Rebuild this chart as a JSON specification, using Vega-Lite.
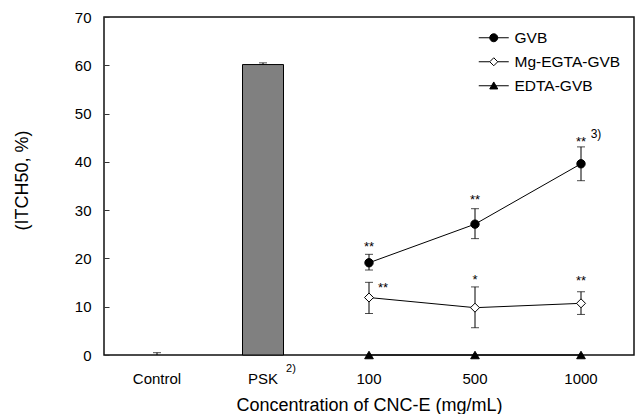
{
  "$schema": "https://vega.github.io/schema/vega-lite/v6.json",
  "width": 530,
  "height": 338,
  "autosize": {"type": "none"},
  "padding": {"left": 104, "top": 17, "right": 7, "bottom": 59},
  "background": "white",
  "config": {
    "view": {"stroke": "#111111", "strokeWidth": 1.5},
    "font": "Liberation Sans",
    "text": {"font": "Liberation Sans"}
  },
  "datasets": {
    "series": [
      {"series": "GVB", "cat": "100", "mean": 19.1, "lo": 17.6, "hi": 20.85},
      {"series": "GVB", "cat": "500", "mean": 27.1, "lo": 24.1, "hi": 30.3},
      {"series": "GVB", "cat": "1000", "mean": 39.6, "lo": 36.1, "hi": 43.1},
      {"series": "Mg-EGTA-GVB", "cat": "100", "mean": 11.9, "lo": 8.6, "hi": 15.05},
      {"series": "Mg-EGTA-GVB", "cat": "500", "mean": 9.8, "lo": 5.65, "hi": 14.1},
      {"series": "Mg-EGTA-GVB", "cat": "1000", "mean": 10.7, "lo": 8.4, "hi": 13.1},
      {"series": "EDTA-GVB", "cat": "100", "mean": 0, "lo": 0, "hi": 0},
      {"series": "EDTA-GVB", "cat": "500", "mean": 0, "lo": 0, "hi": 0},
      {"series": "EDTA-GVB", "cat": "1000", "mean": 0, "lo": 0, "hi": 0}
    ],
    "bars": [
      {"cat": "Control", "mean": 0, "hi": 0.48},
      {"cat": "PSK", "mean": 60.15, "hi": 60.5}
    ],
    "marks": [
      {"cat": "100", "y": 22.97, "label": "**", "side": "top"},
      {"cat": "500", "y": 32.65, "label": "**", "side": "top"},
      {"cat": "1000", "y": 44.7, "label": "**", "side": "top"},
      {"cat": "100", "y": 14.5, "label": "**", "side": "right"},
      {"cat": "500", "y": 16.2, "label": "*", "side": "top"},
      {"cat": "1000", "y": 15.9, "label": "**", "side": "top"}
    ],
    "notes": [
      {"cat": "1000", "y": 45.7, "label": "3)", "where": "plot"},
      {"cat": "PSK", "y": 0, "label": "2)", "where": "axis"}
    ]
  },
  "encoding": {
    "x": {
      "field": "cat", "type": "nominal",
      "scale": {"domain": ["Control", "PSK", "100", "500", "1000"], "paddingInner": 0, "paddingOuter": 0},
      "axis": {
        "title": "Concentration of CNC-E (mg/mL)",
        "titleFont": "Liberation Sans", "titleFontSize": 18, "titleFontWeight": "normal", "titleColor": "black",
        "titleBaseline": "alphabetic", "titleY": 55,
        "labelFont": "Liberation Sans", "labelFontSize": 15, "labelColor": "black", "labelAngle": 0,
        "labelPadding": 16, "ticks": false, "domain": false, "grid": false
      }
    }
  },
  "layer": [
    {
      "data": {"name": "bars"},
      "transform": [{"filter": "datum.mean > 0"}],
      "mark": {"type": "bar", "width": 41, "fill": "#808080", "stroke": "black", "strokeWidth": 1},
      "encoding": {
        "y": {
          "field": "mean", "type": "quantitative",
          "scale": {"domain": [0, 70], "nice": false, "zero": true},
          "axis": {
            "title": "(ITCH50, %)",
            "titleFont": "Liberation Sans", "titleFontSize": 18, "titleFontWeight": "normal", "titleColor": "black",
            "titleAngle": -90, "titleX": -77, "titleY": 163, "titleAlign": "center", "titleBaseline": "alphabetic",
            "values": [0, 10, 20, 30, 40, 50, 60, 70],
            "labelFont": "Liberation Sans", "labelFontSize": 15, "labelColor": "black",
            "tickSize": -5, "tickColor": "#333333", "labelPadding": 18,
            "domain": false, "grid": false
          }
        }
      }
    },
    {
      "data": {"name": "bars"},
      "mark": {"type": "rule", "color": "black", "strokeWidth": 1},
      "encoding": {"y": {"field": "mean", "type": "quantitative"}, "y2": {"field": "hi"}}
    },
    {
      "data": {"name": "bars"},
      "mark": {"type": "tick", "orient": "horizontal", "color": "black", "thickness": 1, "size": 8},
      "encoding": {"y": {"field": "hi", "type": "quantitative"}}
    },
    {
      "data": {"name": "series"},
      "transform": [{"filter": "datum.hi > datum.lo"}],
      "mark": {"type": "rule", "color": "black", "strokeWidth": 1},
      "encoding": {"y": {"field": "lo", "type": "quantitative"}, "y2": {"field": "hi"}}
    },
    {
      "data": {"name": "series"},
      "transform": [{"filter": "datum.hi > datum.lo"}],
      "mark": {"type": "tick", "orient": "horizontal", "color": "black", "thickness": 1, "size": 8},
      "encoding": {"y": {"field": "hi", "type": "quantitative"}}
    },
    {
      "data": {"name": "series"},
      "transform": [{"filter": "datum.hi > datum.lo"}],
      "mark": {"type": "tick", "orient": "horizontal", "color": "black", "thickness": 1, "size": 8},
      "encoding": {"y": {"field": "lo", "type": "quantitative"}}
    },
    {
      "data": {"name": "series"},
      "mark": {"type": "line", "color": "black", "strokeWidth": 1},
      "encoding": {
        "y": {"field": "mean", "type": "quantitative"},
        "detail": {"field": "series", "type": "nominal"}
      }
    },
    {
      "data": {"name": "series"},
      "transform": [{"filter": "datum.series == 'GVB'"}],
      "mark": {"type": "point", "shape": "circle", "filled": true, "fill": "black", "stroke": "black", "strokeWidth": 1, "opacity": 1, "size": 70},
      "encoding": {"y": {"field": "mean", "type": "quantitative"}}
    },
    {
      "data": {"name": "series"},
      "transform": [{"filter": "datum.series == 'Mg-EGTA-GVB'"}],
      "mark": {"type": "point", "shape": "diamond", "filled": true, "fill": "white", "stroke": "black", "strokeWidth": 1, "opacity": 1, "size": 81},
      "encoding": {"y": {"field": "mean", "type": "quantitative"}}
    },
    {
      "data": {"name": "series"},
      "transform": [{"filter": "datum.series == 'EDTA-GVB'"}],
      "mark": {"type": "point", "shape": "triangle-up", "filled": true, "fill": "black", "stroke": "black", "strokeWidth": 1, "opacity": 1, "size": 75},
      "encoding": {"y": {"field": "mean", "type": "quantitative"}}
    },
    {
      "data": {"name": "series"},
      "mark": {"type": "point", "filled": true, "opacity": 0},
      "encoding": {
        "y": {"field": "mean", "type": "quantitative"},
        "shape": {
          "field": "series", "type": "nominal",
          "scale": {"domain": ["GVB", "Mg-EGTA-GVB", "EDTA-GVB"], "range": [
            "M-3.75,0H3.75M1,0A1,1,0,1,1,-1,0A1,1,0,1,1,1,0Z",
            "M-3.75,0H-1M1,0H3.75M0,-1L1,0L0,1L-1,0Z",
            "M-3.75,0H3.75M0,-0.95L1,0.8L-1,0.8Z"
          ]},
          "legend": {
            "title": null, "orient": "none", "legendX": 382, "legendY": 13, "padding": 0,
            "symbolSize": 64, "symbolStrokeWidth": 1, "symbolOpacity": 1,
            "labelFont": "Liberation Sans", "labelFontSize": 15.5, "labelColor": "black", "labelOffset": 13,
            "rowPadding": 7
          }
        },
        "fill": {
          "field": "series", "type": "nominal",
          "scale": {"domain": ["GVB", "Mg-EGTA-GVB", "EDTA-GVB"], "range": ["black", "white", "black"]},
          "legend": {
            "title": null, "orient": "none", "legendX": 382, "legendY": 13, "padding": 0,
            "symbolSize": 64, "symbolStrokeWidth": 1, "symbolOpacity": 1,
            "labelFont": "Liberation Sans", "labelFontSize": 15.5, "labelColor": "black", "labelOffset": 13,
            "rowPadding": 7
          }
        },
        "stroke": {
          "field": "series", "type": "nominal",
          "scale": {"domain": ["GVB", "Mg-EGTA-GVB", "EDTA-GVB"], "range": ["black", "black", "black"]},
          "legend": {
            "title": null, "orient": "none", "legendX": 382, "legendY": 13, "padding": 0,
            "symbolSize": 64, "symbolStrokeWidth": 1, "symbolOpacity": 1,
            "labelFont": "Liberation Sans", "labelFontSize": 15.5, "labelColor": "black", "labelOffset": 13,
            "rowPadding": 7
          }
        }
      }
    },
    {
      "data": {"name": "marks"},
      "transform": [{"filter": "datum.side == 'top'"}],
      "mark": {"type": "text", "fontSize": 13, "color": "black", "baseline": "alphabetic", "dy": 7},
      "encoding": {"y": {"field": "y", "type": "quantitative"}, "text": {"field": "label"}}
    },
    {
      "data": {"name": "marks"},
      "transform": [{"filter": "datum.side == 'right'"}],
      "mark": {"type": "text", "fontSize": 13, "color": "black", "baseline": "alphabetic", "dy": 7, "dx": 14},
      "encoding": {"y": {"field": "y", "type": "quantitative"}, "text": {"field": "label"}}
    },
    {
      "data": {"name": "notes"},
      "transform": [{"filter": "datum.where == 'plot'"}],
      "mark": {"type": "text", "fontSize": 12, "color": "black", "baseline": "middle", "dx": 15},
      "encoding": {"y": {"field": "y", "type": "quantitative"}, "text": {"field": "label"}}
    },
    {
      "data": {"name": "notes"},
      "transform": [{"filter": "datum.where == 'axis'"}],
      "mark": {"type": "text", "fontSize": 11, "color": "black", "baseline": "middle", "dx": 28, "dy": 14},
      "encoding": {"y": {"field": "y", "type": "quantitative"}, "text": {"field": "label"}}
    }
  ]
}
